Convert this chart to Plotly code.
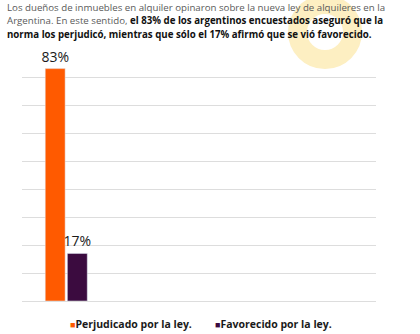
import plotly.graph_objects as go

categories = ["Ley"]
series_names = ["Perjudicado por la ley.", "Favorecido por la ley."]
series_values = [83, 17]
series_labels = ["83%", "17%"]
series_colors = ["#FF5A00", "#3B0B3F"]

W, H = 420, 334
L, R, T, B = 22, 44, 49, 33
PW, PH = W - L - R, H - T - B

def px(x):
    return (x - L) / PW

def py(y):
    return (H - B - y) / PH

fig = go.Figure()
for name, val, lab, col in zip(series_names, series_values, series_labels, series_colors):
    fig.add_trace(go.Bar(
        x=categories, y=[val], name=name, marker_color=col,
        text=[lab], textposition="outside", cliponaxis=False, constraintext="none",
        textfont=dict(family="Open Sans, sans-serif", size=14, color="#1a1a1a"),
        showlegend=False,
    ))

fig.update_layout(
    width=W, height=H,
    margin=dict(l=L, r=R, t=T, b=B),
    paper_bgcolor="white", plot_bgcolor="rgba(0,0,0,0)",
    barmode="group", bargap=0.5, bargroupgap=0.1,
    xaxis=dict(range=[-0.5, 3.5], showticklabels=False, showgrid=False, zeroline=False, showline=False, fixedrange=True),
    yaxis=dict(range=[0, 90], dtick=10, showticklabels=False, showgrid=True, gridcolor="#DDDDDD", gridwidth=1,
               zeroline=True, zerolinecolor="#DDDDDD", zerolinewidth=1, showline=False),
)

# faint background watermark ring
fig.add_shape(type="circle", xref="paper", yref="paper", layer="below",
              x0=px(325 - 27.5), x1=px(325 + 27.5), y0=py(32 + 27.5), y1=py(32 - 27.5),
              line=dict(color="#FDEFC2", width=19), fillcolor="rgba(0,0,0,0)")

intro_lines = [
    "Los dueños de inmuebles en alquiler opinaron sobre la nueva ley de alquileres en la",
    "Argentina. En este sentido, <b style='color:#111'>el 83% de los argentinos encuestados aseguró que la</b>",
    "<b style='color:#111'>norma los perjudicó, mientras que sólo el 17% afirmó que se vió favorecido.</b>",
]
line_y = [8, 21, 34]
for txt, yy in zip(intro_lines, line_y):
    fig.add_annotation(text=txt, xref="paper", yref="paper", x=px(5), y=py(yy),
                       xanchor="left", yanchor="middle", showarrow=False,
                       font=dict(family="Open Sans, sans-serif", size=9.7, color="#5a5a5a"))

legend_x = [68, 213]
for name, col, lx in zip(series_names, series_colors, legend_x):
    fig.add_annotation(text=f"<span style='color:{col};font-size:9px'>■</span><b>{name}</b>",
                       xref="paper", yref="paper", x=px(lx), y=py(324),
                       xanchor="left", yanchor="middle", showarrow=False,
                       font=dict(family="Open Sans, sans-serif", size=10.5, color="#1a1a1a"))

fig.write_html("out.html")
